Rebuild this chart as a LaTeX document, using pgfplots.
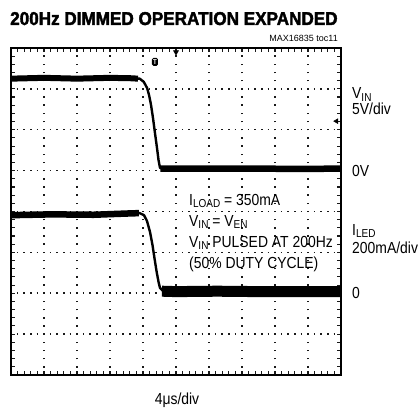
\documentclass[border=0pt]{standalone}
\usepackage{fontspec}
\setmainfont{Liberation Sans}[FakeStretch=0.87]
\newfontfamily\plainfont{Liberation Sans}
\newfontfamily\titlefont{Liberation Sans}[FakeStretch=0.92, BoldFeatures={FakeBold=2}]
\usepackage{pgfplots}
\pgfplotsset{compat=1.18}
\definecolor{scopeInk}{RGB}{25,25,25}

\newcommand{\lab}{\fontsize{16}{16}\selectfont}
\newcommand{\sub}[1]{\raisebox{-2.2pt}{\fontsize{11.5}{11.5}\selectfont #1}}

% x: time in us (4 us/div), y: scope divisions, 0 = screen centre
\pgfplotsset{screenbox/.style={
  at={(11pt,36pt)}, anchor=south west,
  scale only axis, width=330pt, height=327pt,
  xmin=-20, xmax=20, ymin=-4, ymax=4,
  xtick={-20,-16,...,20}, ytick={-4,-3,...,4},
  minor x tick num=4, minor y tick num=4,
  xticklabel=\empty, yticklabel=\empty,
}}

\begin{document}
\begin{tikzpicture}
\path[use as bounding box] (0,0) rectangle (420pt,411pt);

% graticule: frame, edge ticks, dotted grid
\begin{axis}[screenbox, clip=false,
  axis line style={line width=2pt},
  tick align=inside, major tick length=4pt, minor tick length=4pt,
  every tick/.style={scopeInk, line width=1.1pt},
  every minor tick/.style={scopeInk, line width=1.1pt},
  xmajorgrids, ymajorgrids,
  x grid style={scopeInk, line width=1.5pt, dash pattern=on 1.5pt off 6.675pt, dash phase=0.75pt},
  y grid style={scopeInk, line width=1.5pt, dash pattern=on 1.5pt off 5.1pt, dash phase=0.75pt},
]
\addplot[draw=none] coordinates {(-20,0) (20,0)};
\end{axis}

% traces
\begin{axis}[screenbox, hide axis, clip=false]
% VIN
\addplot[black, line width=2.4pt, line join=round] coordinates {
(-20,3.25) (-16,3.27) (-12,3.25) (-8,3.27) (-5.5,3.26) (-4.4,3.25) (-3.9,3.17)
(-3.5,3.02) (-3.27,2.85) (-3.03,2.61) (-2.79,2.29) (-2.55,1.92) (-2.3,1.55)
(-2.12,1.26) (-1.94,1.07) (-1.7,1.05) (0,1.05) (5,1.05) (10,1.05) (15,1.04) (20,1.05)};
\addplot[black, line width=6pt] coordinates {
(-20,3.25) (-16,3.27) (-12,3.25) (-8,3.27) (-5.5,3.26) (-4.6,3.25)};
\addplot[black, line width=6.5pt] coordinates {
(-1.9,1.05) (0,1.05) (5,1.05) (10,1.05) (15,1.04) (20,1.05)};
% ILED
\addplot[black, line width=2.4pt, line join=round] coordinates {
(-20,-0.09) (-15,-0.07) (-10,-0.08) (-6,-0.05) (-4.4,-0.04) (-3.88,-0.09)
(-3.52,-0.23) (-3.15,-0.50) (-2.85,-0.82) (-2.61,-1.14) (-2.36,-1.46)
(-2.12,-1.72) (-1.94,-1.87) (-1.58,-1.94) (0,-1.96) (5,-1.95) (10,-1.96) (15,-1.96) (20,-1.96)};
\addplot[black, line width=6.5pt] coordinates {
(-20,-0.09) (-15,-0.07) (-10,-0.08) (-6,-0.05) (-4.5,-0.04)};
\addplot[black, line width=11pt] coordinates {
(-1.7,-1.95) (0,-1.96) (5,-1.95) (10,-1.96) (15,-1.96) (20,-1.96)};
% markers: trigger position, level
\addplot[only marks, mark=triangle*, mark size=3pt, mark options={rotate=180, fill=black}] coordinates {(0,3.9)};
\addplot[only marks, mark=triangle*, mark size=2.8pt, mark options={rotate=90, fill=black}] coordinates {(19.45,2.21)};
\node[fill=black, rounded corners=1.5pt, inner sep=0.6pt, minimum width=6pt, minimum height=8pt,
  text=white, font=\fontsize{7}{7}\selectfont\bfseries] at (axis cs:-2.55,3.66) {T};
\end{axis}

% title and credits
\node[anchor=base west, inner sep=0] at (10pt,386pt)
  {\titlefont\bfseries\fontsize{18.6}{18.6}\selectfont 200Hz DIMMED OPERATION EXPANDED};
\node[anchor=base east, inner sep=0] at (338pt,369.5pt)
  {\plainfont\fontsize{9}{9}\selectfont MAX16835 toc11};

% channel labels
\node[anchor=base west, inner sep=0] at (352pt,312pt) {\lab V\sub{IN}};
\node[anchor=base west, inner sep=0] at (352pt,296pt) {\lab 5V/div};
\node[anchor=base west, inner sep=0] at (352pt,234.3pt) {\lab 0V};
\node[anchor=base west, inner sep=0] at (352pt,175.3pt) {\lab I\sub{LED}};
\node[anchor=base west, inner sep=0] at (352pt,157.7pt) {\lab 200mA/div};
\node[anchor=base west, inner sep=0] at (352pt,112pt) {\lab 0};

% test conditions
\node[anchor=base west, inner sep=0] at (189pt,205.3pt) {\lab I\sub{LOAD} = 350mA};
\node[anchor=base west, inner sep=0] at (189pt,184.4pt) {\lab V\sub{IN} = V\sub{EN}};
\node[anchor=base west, inner sep=0] at (189pt,163.5pt) {\lab V\sub{IN} PULSED AT 200Hz};
\node[anchor=base west, inner sep=0] at (189pt,142.7pt) {\lab (50\% DUTY CYCLE)};

\node[anchor=base, inner sep=0] at (177pt,6pt) {\lab 4μs/div};
\end{tikzpicture}
\end{document}
